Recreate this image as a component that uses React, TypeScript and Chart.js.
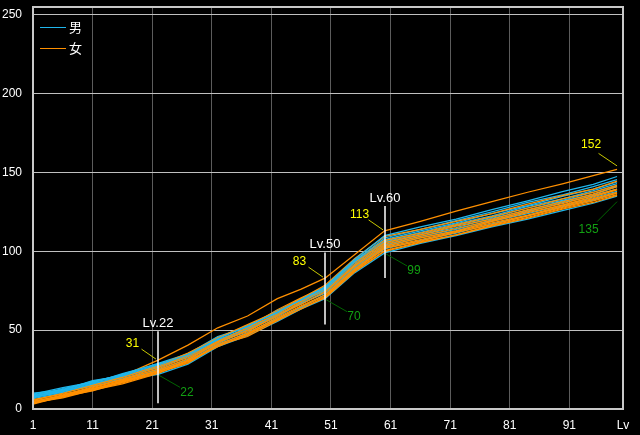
import { useEffect, useRef } from 'react';
import { Chart, registerables } from 'chart.js';

Chart.register(...registerables);

// Levels at which each character's value was read
const levels = [1, 6, 11, 16, 22, 27, 32, 37, 42, 46, 50, 55, 60, 66, 72, 78, 84, 90, 95, 99];

// Male (男) series
const male1 = [9, 12.5, 17.5, 21.5, 28, 34.5, 44.5, 52.5, 61.5, 69.5, 77.5, 95, 110, 115.5, 120.5, 126.5, 132, 138, 142.5, 147.5];
const male2 = [9.5, 13.5, 17, 22, 29, 35, 46, 52, 62.5, 69, 77, 94, 108.5, 114, 119.5, 125, 131, 136, 141, 145.5];
const male3 = [8.5, 12, 18, 21, 27.5, 33.5, 45, 53, 61, 70, 76.5, 93.5, 107.5, 113, 118, 124, 129, 135, 139.5, 144];
const male4 = [8, 13, 16.5, 22.5, 28.5, 34, 43.5, 51.5, 62, 68.5, 75.5, 93, 106.5, 112, 117.5, 122.5, 128.5, 133.5, 138.5, 143];
const male5 = [10, 12, 17, 20.5, 26.5, 35, 44, 50.5, 60.5, 69, 75, 92, 106, 111, 116.5, 121.5, 127.5, 132.5, 137.5, 141.5];
const male6 = [7.5, 11, 16, 20, 27, 32.5, 42.5, 51, 59.5, 67.5, 76, 91, 105, 110.5, 115, 121, 126, 132, 136, 141];
const male7 = [7, 11.5, 15, 20.5, 26, 33.5, 43, 49.5, 60, 66.5, 74.5, 90, 104, 109.5, 114, 120, 125, 131, 135, 139.5];
const male8 = [8.5, 11.5, 16.5, 19.5, 25, 31.5, 41.5, 50, 58.5, 67, 73.5, 89.5, 103, 108.5, 113, 119, 124, 129.5, 134, 138];
const male9 = [6.5, 10, 15.5, 19, 24, 30.5, 40.5, 48.5, 57.5, 64.5, 72.5, 88.5, 101.5, 107, 111.5, 117.5, 122.5, 128.5, 132.5, 137];
const male10 = [7.5, 10.5, 14.5, 18.5, 22, 28.5, 39.5, 46.5, 55.5, 63.5, 70, 86.5, 99, 105, 110, 115.5, 120.5, 126, 130.5, 135];

// Female (女) series
const female1 = [7.5, 11.5, 15.5, 21, 31, 40.5, 51.5, 59, 70, 76, 83, 98, 113, 119, 125.5, 131.5, 137.5, 143, 148, 152];
const female2 = [5.5, 10, 15, 20, 27.5, 35.5, 45, 53.5, 62, 70, 78.5, 95.5, 109.5, 114, 119, 124, 130, 135.5, 139.5, 144.5];
const female3 = [4.5, 9, 14, 19, 26.5, 34, 45.5, 52, 63, 70.5, 77.5, 94.5, 107, 111.5, 117, 122, 127.5, 133.5, 137.5, 142];
const female4 = [5, 8.5, 13.5, 18.5, 25.5, 33, 43, 51.5, 60.5, 68.5, 76.5, 93, 105.5, 110.5, 116, 120.5, 126.5, 131.5, 136.5, 141];
const female5 = [3.5, 8, 13, 17.5, 24.5, 32, 42, 50, 59, 68, 75, 91.5, 104.5, 109.5, 114.5, 119.5, 125.5, 130.5, 135.5, 139.5];
const female6 = [4, 7.5, 12.5, 18, 23.5, 31, 42.5, 49, 59.5, 66.5, 74, 90.5, 103.5, 108.5, 113, 119, 124.5, 129.5, 134.5, 139];
const female7 = [3, 8, 11.5, 17, 24, 30, 41, 48, 58, 65.5, 72.5, 89, 102.5, 107.5, 112.5, 118, 123, 129, 133.5, 137.5];
const female8 = [6, 9.5, 13, 16.5, 23, 29.5, 40, 47, 57, 65, 71.5, 88, 102, 106.5, 112, 117, 122.5, 128, 133, 137];
const female9 = [4, 7, 12, 16, 22.5, 30.5, 39.5, 47.5, 56.5, 63.5, 71, 87.5, 100.5, 106, 110.5, 116.5, 121.5, 127.5, 132, 136];
const female10 = [3.5, 8.5, 12.5, 17, 23, 29, 40.5, 46, 56, 64, 70.5, 87, 100, 105.5, 110.5, 116, 121, 127, 131, 135.5];

const maleSeries = [male1, male2, male3, male4, male5, male6, male7, male8, male9, male10];
const femaleSeries = [female2, female3, female4, female5, female6, female7, female8, female9, female10, female1];

const legendLabels = ['男', '女'];
const xTickValues = [1, 11, 21, 31, 41, 51, 61, 71, 81, 91, 100];
const xTickLabels = ['1', '11', '21', '31', '41', '51', '61', '71', '81', '91', 'Lv'];
const yTickValues = [0, 50, 100, 150, 200, 250];

// Marked levels with max / min values
const markLevels = [22, 50, 60];
const markMax = [31, 83, 113];
const markMin = [22, 70, 99];
const endLevel = 99;
const endMax = 152;
const endMin = 135;

const MALE = '#20b6ec';
const FEMALE = '#ff9000';
const FONT = "'Liberation Sans', Arial, sans-serif";
const CJK = "'Noto Sans CJK JP', sans-serif";

export default function App() {
  const ref = useRef<HTMLCanvasElement>(null);

  useEffect(() => {
    document.body.style.margin = '0';
    document.body.style.background = '#000';
    const canvas = ref.current!;

    const toPts = (vals: number[]) => levels.map((l, i) => ({ x: l, y: vals[i] }));
    const datasets: any[] = [];
    for (let i = 0; i < 10; i++) {
      datasets.push({ label: legendLabels[0], data: toPts(maleSeries[i]), borderColor: MALE });
      datasets.push({ label: legendLabels[1], data: toPts(femaleSeries[i]), borderColor: FEMALE });
    }

    const overlay = {
      id: 'overlay',
      afterDatasetsDraw(chart: any) {
        const { ctx, chartArea: a } = chart;
        const x = chart.scales.x;
        const y = chart.scales.y;
        const line = (x1: number, y1: number, x2: number, y2: number) => {
          ctx.beginPath();
          ctx.moveTo(x1, y1);
          ctx.lineTo(x2, y2);
          ctx.stroke();
        };
        ctx.save();
        // frame
        ctx.strokeStyle = '#c8c8c8';
        ctx.lineWidth = 2;
        ctx.strokeRect(a.left, a.top, a.right - a.left, a.bottom - a.top);

        // legend
        [MALE, FEMALE].forEach((c, i) => {
          const ly = a.top + 20.5 + i * 21;
          ctx.strokeStyle = c;
          ctx.lineWidth = 1;
          line(a.left + 7, ly, a.left + 33, ly);
          ctx.fillStyle = '#fff';
          ctx.font = `13px ${CJK}`;
          ctx.textAlign = 'left';
          ctx.textBaseline = 'middle';
          ctx.fillText(legendLabels[i], a.left + 36, ly);
        });

        const maxLabel = (px: number, py: number, v: number, o: number[]) => {
          ctx.strokeStyle = '#c8c800';
          ctx.lineWidth = 1;
          line(px + o[0], py + o[1], px + o[2], py + o[3]);
          ctx.fillStyle = '#ffff00';
          ctx.font = `12px ${FONT}`;
          ctx.textAlign = 'center';
          ctx.textBaseline = 'middle';
          ctx.fillText(String(v), px + o[4], py + o[5]);
        };
        const minLabel = (px: number, py: number, v: number, o: number[]) => {
          ctx.strokeStyle = '#006400';
          ctx.lineWidth = 1;
          line(px + o[0], py + o[1], px + o[2], py + o[3]);
          ctx.fillStyle = '#12a012';
          ctx.font = `12px ${FONT}`;
          ctx.textAlign = 'center';
          ctx.textBaseline = 'middle';
          ctx.fillText(String(v), px + o[4], py + o[5]);
        };

        markLevels.forEach((lv, i) => {
          const px = Math.round(x.getPixelForValue(lv));
          const yTop = y.getPixelForValue(markMax[i]);
          const yBot = y.getPixelForValue(markMin[i]);
          const mid = (yTop + yBot) / 2;
          ctx.strokeStyle = '#ffffff';
          ctx.lineWidth = 1.5;
          line(px, mid - 36, px, mid + 36);
          ctx.fillStyle = '#fff';
          ctx.font = `13px ${FONT}`;
          ctx.textAlign = 'center';
          ctx.textBaseline = 'middle';
          ctx.fillText('Lv.' + lv, px, mid - 43.5);
          maxLabel(px, yTop, markMax[i], [-16.5, -11, -2, -1, -25.5, -16.5]);
          minLabel(px, yBot, markMin[i], [1, 1, 22, 13, 29, 18]);
        });

        const ex = x.getPixelForValue(endLevel);
        maxLabel(ex, y.getPixelForValue(endMax), endMax, [-18.5, -16, 0, -3.5, -26, -24.5]);
        minLabel(ex, y.getPixelForValue(endMin), endMin, [-20, 25.5, 0, 5.5, -28.5, 33.5]);
        ctx.restore();
      },
    };

    const tickFont = { family: FONT, size: 12 };
    const chart = new Chart(canvas, {
      type: 'line',
      data: { datasets },
      options: {
        animation: false,
        responsive: false,
        devicePixelRatio: 1,
        layout: { padding: { top: 7, right: 17, left: 0, bottom: 0 } },
        plugins: { legend: { display: false }, tooltip: { enabled: false } },
        elements: { point: { radius: 0 }, line: { borderWidth: 1.25, tension: 0 } },
        scales: {
          x: {
            type: 'linear',
            min: 1,
            max: 100,
            afterBuildTicks: (s: any) => {
              s.ticks = xTickValues.map((v) => ({ value: v }));
            },
            afterFit: (s: any) => {
              s.height = 26;
              s.paddingLeft = 0;
              s.paddingRight = 0;
            },
            ticks: {
              color: '#ffffff',
              font: tickFont,
              padding: 9,
              maxRotation: 0,
              autoSkip: false,
              callback: (v: any) => xTickLabels[xTickValues.indexOf(Number(v))],
            },
            grid: { color: '#5c5c5c', lineWidth: 1, drawTicks: false },
            border: { display: false },
          },
          y: {
            type: 'linear',
            min: 0,
            max: 255,
            afterBuildTicks: (s: any) => {
              s.ticks = yTickValues.map((v) => ({ value: v }));
            },
            afterFit: (s: any) => {
              s.width = 33;
              s.paddingTop = 0;
              s.paddingBottom = 0;
            },
            ticks: { color: '#ffffff', font: tickFont, padding: 11 },
            grid: { color: '#c0c0c0', lineWidth: 1, drawTicks: false },
            border: { display: false },
          },
        },
      } as any,
      plugins: [overlay],
    });
    return () => chart.destroy();
  }, []);

  return (
    <canvas
      ref={ref}
      width={640}
      height={435}
      style={{ display: 'block', background: '#000', width: 640, height: 435 }}
    />
  );
}
